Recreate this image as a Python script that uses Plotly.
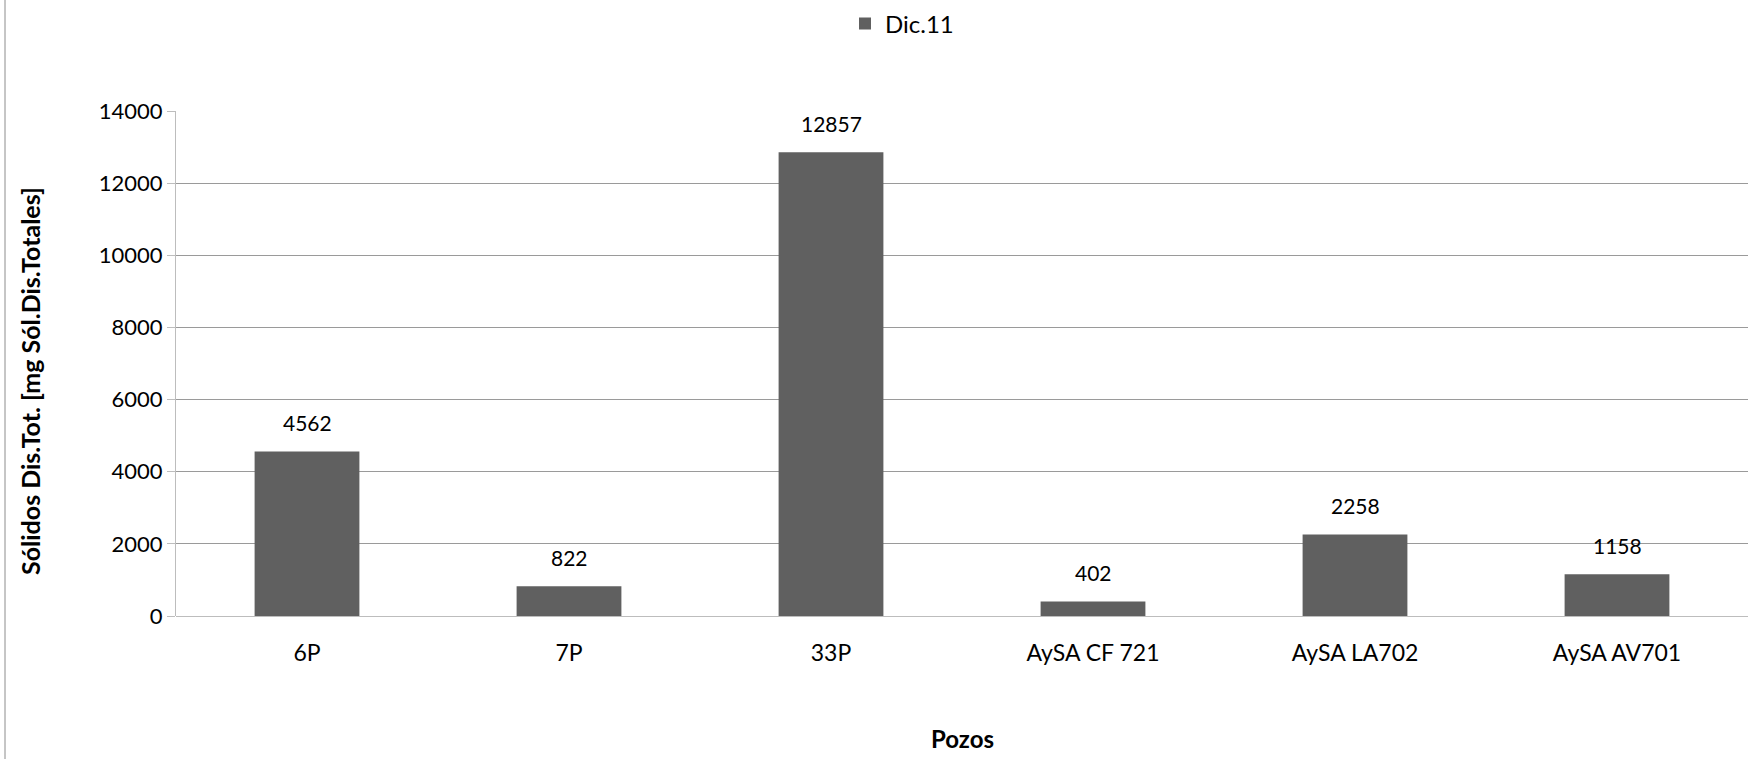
import plotly.graph_objects as go

# Datos
pozos = ["6P", "7P", "33P", "AySA CF 721", "AySA LA702", "AySA AV701"]
dic11 = [4562, 822, 12857, 402, 2258, 1158]
y_ticks = [0, 2000, 4000, 6000, 8000, 10000, 12000, 14000]

FONT = "Lato, 'Open Sans', sans-serif"
W, H = 1762, 759
L, R, T, B = 176, 14, 111, 143
plot_w = W - L - R
plot_h = H - T - B

fig = go.Figure()

fig.add_trace(
    go.Bar(
        x=pozos,
        y=dic11,
        name="Dic.11",
        marker=dict(color="#606060", line=dict(width=0)),
        width=0.4,
    )
)

# etiquetas de valores sobre las barras
for p, v in zip(pozos, dic11):
    fig.add_annotation(
        x=p, y=v, text=str(v), showarrow=False,
        yanchor="middle", yshift=29,
        font=dict(family=FONT, size=21, color="#000000"),
    )

fig.add_annotation(
    text="<b>Sólidos Dis.Tot. [mg Sól.Dis.Totales]</b>",
    textangle=-90, showarrow=False,
    xref="paper", yref="paper",
    x=(30 - L) / plot_w, y=(H - B - 381) / plot_h,
    xanchor="center", yanchor="middle",
    font=dict(family=FONT, size=25, color="#000000"),
)
fig.add_annotation(
    text="<b>Pozos</b>", showarrow=False,
    xref="paper", yref="paper",
    x=0.5, y=-(738 - (H - B)) / plot_h,
    xanchor="center", yanchor="middle",
    font=dict(family=FONT, size=24, color="#000000"),
)

# borde izquierdo del área del gráfico
fig.add_shape(
    type="line", xref="paper", yref="paper",
    x0=(5 - L) / plot_w, x1=(5 - L) / plot_w,
    y0=-B / plot_h, y1=1 + T / plot_h,
    line=dict(color="#8c8c8c", width=1),
)

fig.update_layout(
    width=W,
    height=H,
    margin=dict(l=L, r=R, t=T, b=B),
    plot_bgcolor="white",
    paper_bgcolor="white",
    font=dict(family=FONT, size=22, color="#000000"),
    showlegend=True,
    legend=dict(
        orientation="h",
        x=902 / W, xref="container", xanchor="center",
        y=1 - 24 / H, yref="container", yanchor="middle",
        font=dict(family=FONT, size=24),
        itemwidth=30,
    ),
    bargap=0.6,
)

fig.update_xaxes(
    showgrid=False,
    showline=False,
    ticks="",
    tickfont=dict(family=FONT, size=23),
    ticklabelstandoff=21,
)
fig.update_yaxes(
    range=[0, 14000],
    tickvals=y_ticks,
    ticktext=[str(t) for t in y_ticks],
    showgrid=True,
    gridcolor="#9a9a9a",
    gridwidth=1,
    zeroline=True,
    zerolinecolor="#bdbdbd",
    zerolinewidth=1,
    showline=True,
    linecolor="#bdbdbd",
    linewidth=1,
    ticks="outside",
    ticklen=8,
    tickcolor="#bdbdbd",
    tickfont=dict(family=FONT, size=22),
)

fig.write_html(
    "out.html",
    config={"displayModeBar": False},
    post_script="document.body.style.margin='0';",
)
